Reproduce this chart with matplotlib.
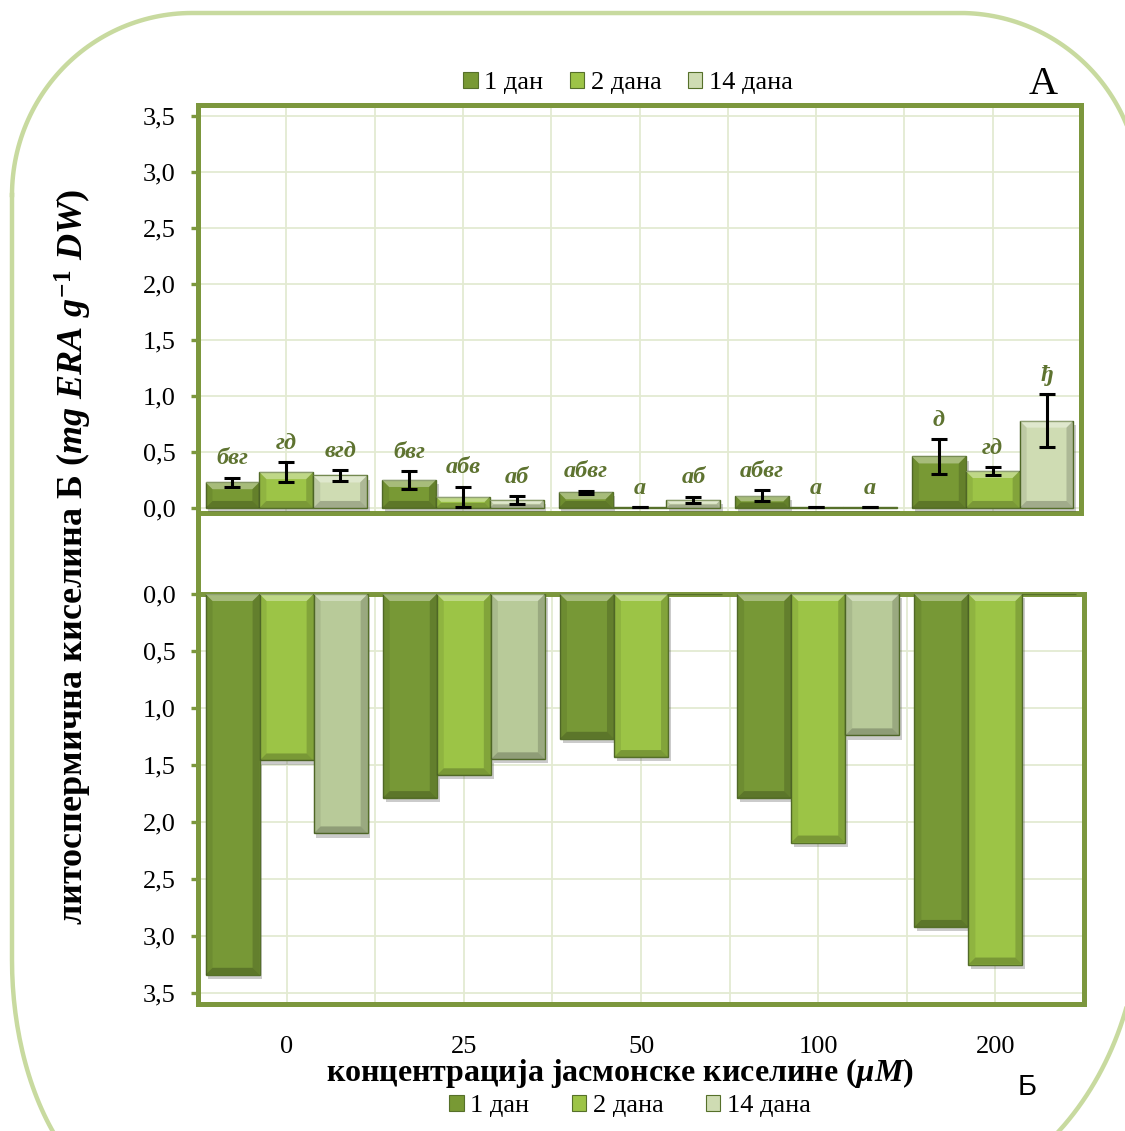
import matplotlib
matplotlib.use("Agg")
import matplotlib.pyplot as plt
import matplotlib.patheffects as pe
from matplotlib.patches import Patch, Polygon
from matplotlib.lines import Line2D
import numpy as np

plt.rcParams['font.family'] = ['Liberation Serif', 'DejaVu Serif']
plt.rcParams['mathtext.fontset'] = 'custom'
plt.rcParams['mathtext.it'] = 'Liberation Serif:italic:bold'
plt.rcParams['mathtext.rm'] = 'Liberation Serif:bold'
plt.rcParams['mathtext.bf'] = 'Liberation Serif:bold'

# ---- data ----
concentrations = ['0', '25', '50', '100', '200']
series = ['1 дан', '2 дана', '14 дана']

# panel A: mean values and standard errors
a_day1 = [0.23, 0.25, 0.14, 0.11, 0.46]
a_day2 = [0.32, 0.10, 0.01, 0.01, 0.33]
a_day14 = [0.29, 0.07, 0.07, 0.01, 0.78]
a_err1 = [0.04, 0.08, 0.015, 0.05, 0.155]
a_err2 = [0.09, 0.09, 0.0, 0.0, 0.035]
a_err14 = [0.05, 0.035, 0.03, 0.0, 0.235]
a_letters1 = ['бвг', 'бвг', 'абвг', 'абвг', 'д']
a_letters2 = ['гд', 'абв', 'а', 'а', 'гд']
a_letters14 = ['вгд', 'аб', 'аб', 'а', 'ђ']

# panel Б: values (drawn downward)
b_day1 = [3.34, 1.79, 1.27, 1.79, 2.92]
b_day2 = [1.46, 1.59, 1.43, 2.18, 3.25]
b_day14 = [2.10, 1.45, 0.0, 1.24, 0.0]

y_ticks = [0.0, 0.5, 1.0, 1.5, 2.0, 2.5, 3.0, 3.5]
y_ticklabels = ['0,0', '0,5', '1,0', '1,5', '2,0', '2,5', '3,0', '3,5']

colors_a = ['#789934', '#9dc447', '#cfdcb3']
colors_b = ['#779836', '#9cc446', '#b8ca99']
edge = '#56702a'
frame = '#7c973d'
grid = '#e3ead2'
letter_color = '#5e7330'

W, H = 1125, 1131
fig = plt.figure(figsize=(W / 100, H / 100), dpi=100)


def fx(px):
    return px / W


def fy(py):
    return 1 - py / H


# rounded decorative border, sampled in pixel space (elliptical corners)
def border_points():
    L, T, R, B = 12, 13, 1140, 1210
    corners = [  # (centre x, centre y, rx, ry, start angle, end angle) in screen orientation
        (L + 180, T + 182, 180, 182, 180, 270),
        (R - 180, T + 180, 180, 180, 270, 360),
        (R - 250, B - 300, 250, 300, 0, 90),
        (L + 150, B - 250, 150, 250, 90, 180),
    ]
    xs, ys = [], []
    for cx, cy, rx, ry, a0, a1 in corners:
        t = np.radians(np.linspace(a0, a1, 60))
        xs.extend(cx + rx * np.cos(t))
        ys.extend(cy + ry * np.sin(t))
    xs.append(xs[0]); ys.append(ys[0])
    return [fx(v) for v in xs], [fy(v) for v in ys]


bx, by = border_points()
fig.add_artist(Line2D(bx, by, transform=fig.transFigure, color='#c8da9f',
                      linewidth=3.2, zorder=0))

ax_a = fig.add_axes([fx(198), fy(513), fx(1081) - fx(198), fy(105) - fy(513)])
ax_b = fig.add_axes([fx(198), fy(1004), fx(1084) - fx(198), fy(594) - fy(1004)])

x = np.arange(len(concentrations))
bw = 0.305
offsets = [-bw, 0, bw]
shadow = [pe.SimplePatchShadow(offset=(2, -3), alpha=0.3, shadow_rgbFace='#555555'), pe.Normal()]

a_vals = [a_day1, a_day2, a_day14]
a_errs = [a_err1, a_err2, a_err14]
a_lets = [a_letters1, a_letters2, a_letters14]
b_vals = [b_day1, b_day2, b_day14]

for ax in (ax_a, ax_b):
    ax.set_xlim(-0.5, 4.5)
    ax.set_xticks(np.arange(-0.5, 4.51, 0.5), minor=False)
    ax.set_yticks(y_ticks)
    ax.set_yticklabels(y_ticklabels)
    ax.grid(True, color=grid, linewidth=1.3, zorder=0)
    ax.set_axisbelow(True)
    for s in ax.spines.values():
        s.set_color(frame)
        s.set_linewidth(3.6)
    ax.tick_params(axis='y', length=5, width=2.4, color=frame, pad=11, labelsize=19)
    ax.tick_params(axis='x', length=0, labelsize=19)

ax_a.set_ylim(-0.045, 3.598)
ax_b.set_ylim(3.596, 0)
ax_a.set_xticklabels([])
ax_b.set_xticks(x)
ax_b.set_xticklabels(concentrations)
ax_b.tick_params(axis='x', pad=23)
ax_b.set_xticks(np.arange(-0.5, 4.51, 0.5), minor=True)
ax_b.grid(True, which='minor', axis='x', color=grid, linewidth=1.3)
ax_b.tick_params(axis='x', which='minor', length=0)

all_bars = []
for k in range(3):
    bars = ax_a.bar(x + offsets[k], a_vals[k], width=bw, color=colors_a[k],
                    edgecolor=edge, linewidth=1.0, zorder=3)
    all_bars.append((ax_a, bars))
    for b in bars:
        b.set_path_effects(shadow)
    ax_a.errorbar(x + offsets[k], a_vals[k], yerr=a_errs[k], fmt='none',
                  ecolor='black', elinewidth=2.2, capsize=5.5, capthick=2.2, zorder=6)
    for i in range(len(x)):
        ax_a.annotate(a_lets[k][i], (x[i] + offsets[k], a_vals[k][i] + a_errs[k][i]),
                      xytext=(0, 6), textcoords='offset points', ha='center', va='bottom',
                      fontsize=17.5, fontstyle='italic', fontweight='bold',
                      color=letter_color, zorder=7)
    bars = ax_b.bar(x + offsets[k], b_vals[k], width=bw, color=colors_b[k],
                    edgecolor=edge, linewidth=1.0, zorder=3)
    all_bars.append((ax_b, bars))
    for b in bars:
        b.set_path_effects(shadow)

# bevel facets on each bar, computed in screen pixels from the bar geometry
fig.canvas.draw()
for ax, bars in all_bars:
    for b in bars:
        x0, y0 = ax.transData.transform((b.get_x(), b.get_y()))
        x1, y1 = ax.transData.transform((b.get_x() + b.get_width(), b.get_y() + b.get_height()))
        left, right = min(x0, x1), max(x0, x1)
        bot, top = min(y0, y1), max(y0, y1)
        h = top - bot
        if h < 4:
            continue
        d = min(7.0, h / 2.2)
        facets = [
            ([(left, top), (right, top), (right - d, top - d), (left + d, top - d)], 'white', 0.35),
            ([(left, bot), (right, bot), (right - d, bot + d), (left + d, bot + d)], 'black', 0.22),
            ([(left, top), (left + d, top - d), (left + d, bot + d), (left, bot)], 'black', 0.08),
            ([(right, top), (right - d, top - d), (right - d, bot + d), (right, bot)], 'black', 0.16),
        ]
        for pts, c, a in facets:
            poly = Polygon(pts, closed=True, transform=None, facecolor=c, alpha=a,
                           edgecolor='none', zorder=4)
            poly.set_clip_path(ax.patch)
            ax.add_artist(poly)

# continuous left frame line between the two panels
fig.add_artist(Line2D([fx(198), fx(198)], [fy(513), fy(594)], transform=fig.transFigure,
                      color=frame, linewidth=3.6))

# axis labels
fig.text(fx(73), fy(557), 'литоспермична киселина Б $\\mathit{(mg\\ ERA\\ g^{-1}\\ DW)}$',
         rotation=90, ha='center', va='center', fontsize=26, fontweight='bold')
fig.text(fx(620), fy(1073), 'концентрација јасмонске киселине $\\mathit{(µM)}$',
         ha='center', va='center', fontsize=23, fontweight='bold')

# panel marks
fig.text(fx(1043), fy(85), 'А', ha='center', va='center', fontsize=29)
fig.text(fx(1027), fy(1087), 'Б', ha='center', va='center', fontsize=21,
         family=['Liberation Sans', 'DejaVu Sans'])

# legends
handles = [Patch(facecolor=colors_a[k], edgecolor=edge, linewidth=0.8) for k in range(3)]
for xc, yc, cs in ((fx(628), fy(83), 1.0), (fx(630), fy(1106), 1.6)):
    fig.legend(handles, series, loc='center', bbox_to_anchor=(xc, yc), ncol=3,
               frameon=False, fontsize=19, handlelength=0.55, handleheight=0.55,
               handletextpad=0.25, columnspacing=cs, borderpad=0)

fig.savefig('out.png', dpi=100)
